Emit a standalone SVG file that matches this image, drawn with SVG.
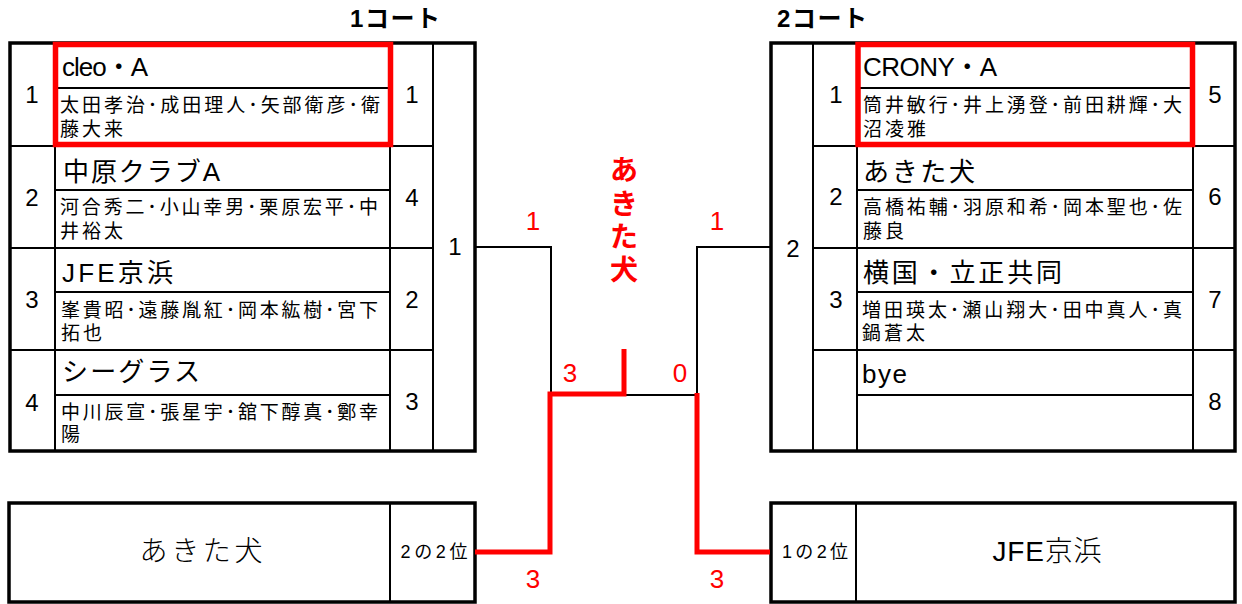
<svg xmlns="http://www.w3.org/2000/svg" width="1242" height="604" viewBox="0 0 1242 604">
<style>
text{font-family:"Liberation Sans","Noto Sans CJK JP",sans-serif;fill:#000}
.hdr{font-size:24px;font-weight:bold}
.num{font-size:24px;text-anchor:middle}
.name{font-size:26px}
.mem{font-size:19px}
.mem2{font-size:19px;letter-spacing:3px}
.rnum{font-size:26px;fill:#ff0000;text-anchor:middle}
.rv{font-size:28px;font-weight:bold;fill:#ff0000;text-anchor:middle}
.big{font-size:28px;font-weight:300;text-anchor:middle}
.small{font-size:18px;text-anchor:middle}
.outer{fill:#fff;stroke:#000;stroke-width:3.5}
.ln{stroke:#000;stroke-width:2;fill:none}
.red{stroke:#ff0000;stroke-width:5.5;fill:none}
.conn{stroke:#000;stroke-width:2;fill:none}
.rconn{stroke:#ff0000;stroke-width:5;fill:none}
</style>
<rect width="1242" height="604" fill="#fff"/>

<g id="court1">
  <text class="hdr" x="350" y="27" textLength="90">1コート</text>
  <rect class="outer" x="10" y="43" width="465" height="408"/>
  <path class="ln" d="M55,43V451M390,43V451M433,43V451M10,146H433M10,248H433M10,350H433M55,88H390M55,190H390M55,292H390M55,395H390"/>
  <text class="num" x="32" y="103">1</text>
  <text class="num" x="32" y="206">2</text>
  <text class="num" x="32" y="308">3</text>
  <text class="num" x="32" y="411">4</text>
  <text class="num" x="412" y="103">1</text>
  <text class="num" x="412" y="206">4</text>
  <text class="num" x="412" y="308">2</text>
  <text class="num" x="412" y="410">3</text>
  <text class="num" x="455" y="255">1</text>
  <text class="name" x="62" y="76" textLength="86">cleo・A</text>
  <text class="mem" x="60" y="112" textLength="320">太田孝治･成田理人･矢部衛彦･衛</text>
  <text class="mem2" x="60" y="136">藤大来</text>
  <text class="name" x="63" y="181" textLength="157">中原クラブA</text>
  <text class="mem" x="60" y="214" textLength="318">河合秀二･小山幸男･栗原宏平･中</text>
  <text class="mem2" x="60" y="238">井裕太</text>
  <text class="name" x="62" y="282" textLength="111">JFE京浜</text>
  <text class="mem" x="61" y="317" textLength="317">峯貴昭･遠藤胤紅･岡本紘樹･宮下</text>
  <text class="mem2" x="61" y="340">拓也</text>
  <text class="name" x="62" y="381" textLength="138">シーグラス</text>
  <text class="mem" x="61" y="419" textLength="317">中川辰宣･張星宇･舘下醇真･鄭幸</text>
  <text class="mem2" x="61" y="441">陽</text>
  <rect class="red" x="55.5" y="44.5" width="335" height="100"/>
</g>

<g id="court2">
  <text class="hdr" x="777" y="27" textLength="90">2コート</text>
  <rect class="outer" x="771" y="43" width="464" height="408"/>
  <path class="ln" d="M813,43V451M857,43V451M1193,43V451M813,146H1235M813,248H1235M813,350H1235M857,88H1193M857,190H1193M857,292H1193M857,395H1193"/>
  <text class="num" x="793" y="257">2</text>
  <text class="num" x="836" y="103">1</text>
  <text class="num" x="836" y="205">2</text>
  <text class="num" x="836" y="308">3</text>
  <text class="num" x="1215" y="103">5</text>
  <text class="num" x="1215" y="205">6</text>
  <text class="num" x="1215" y="308">7</text>
  <text class="num" x="1215" y="410">8</text>
  <text class="name" x="863" y="76" textLength="134">CRONY・A</text>
  <text class="mem" x="863" y="112" textLength="319">筒井敏行･井上湧登･前田耕輝･大</text>
  <text class="mem2" x="863" y="136">沼凌雅</text>
  <text class="name" x="863" y="181" textLength="112">あきた犬</text>
  <text class="mem" x="863" y="214" textLength="319">高橋祐輔･羽原和希･岡本聖也･佐</text>
  <text class="mem2" x="863" y="238">藤良</text>
  <text class="name" x="863" y="282" textLength="199">横国・立正共同</text>
  <text class="mem" x="862" y="317" textLength="320">増田瑛太･瀬山翔大･田中真人･真</text>
  <text class="mem2" x="862" y="340">鍋蒼太</text>
  <text class="name" x="862" y="383" textLength="45">bye</text>
  <rect class="red" x="858" y="44.5" width="334.5" height="100"/>
</g>

<g id="second1">
  <rect class="outer" x="9" y="503" width="466" height="99"/>
  <path class="ln" d="M390,503V602"/>
  <text class="big" x="201" y="561" textLength="123">あきた犬</text>
  <text class="small" x="434" y="558" textLength="67">2の2位</text>
</g>

<g id="second2">
  <rect class="outer" x="771" y="503" width="464" height="99"/>
  <path class="ln" d="M856,503V602"/>
  <text class="small" x="815" y="558" textLength="66">1の2位</text>
  <text class="big" x="1047" y="561" textLength="109">JFE京浜</text>
</g>

<g id="connectors">
  <path class="conn" d="M475,247H551V393"/>
  <path class="conn" d="M770,247H697V395"/>
  <path class="conn" d="M624,395H697"/>
  <path class="rconn" d="M475,552H550V394H624V349"/>
  <path class="rconn" d="M697,393V552H770"/>
</g>

<g id="labels">
  <text class="rnum" x="533" y="230">1</text>
  <text class="rnum" x="717" y="230">1</text>
  <text class="rnum" x="570" y="382">3</text>
  <text class="rnum" x="680" y="382">0</text>
  <text class="rnum" x="533" y="588">3</text>
  <text class="rnum" x="717" y="588">3</text>
  <text class="rv" x="624" y="180">あ</text>
  <text class="rv" x="624" y="214">き</text>
  <text class="rv" x="624" y="247">た</text>
  <text class="rv" x="624" y="280">犬</text>
</g>
</svg>
